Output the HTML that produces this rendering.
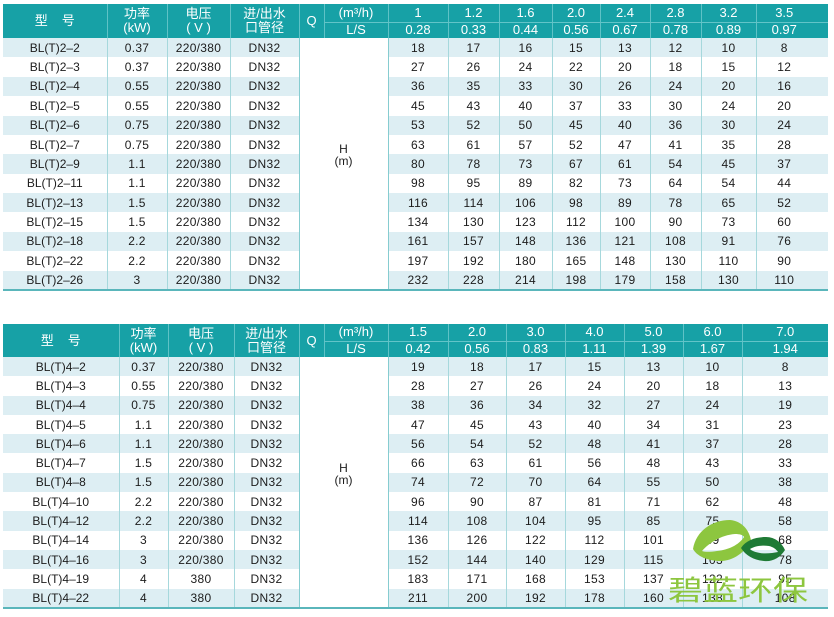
<!DOCTYPE html>
<html><head><meta charset="utf-8">
<style>
body{margin:0;width:834px;height:617px;background:#fff;position:relative;overflow:hidden;font-family:"Liberation Sans","Noto Sans CJK SC",sans-serif;}
table{position:absolute;left:3px;border-collapse:collapse;table-layout:fixed;width:825px;}
th{background:#17a1a6;color:#fff;font-weight:normal;font-size:13px;line-height:14px;padding:0;text-align:center;border-left:1px solid #5fc2c6;white-space:nowrap;overflow:hidden;}
th.f{border-left:none}
th.b{border-bottom:1px solid #62c4c8}
td{font-size:12px;color:#1c1c1c;text-align:center;padding:0;border-left:1px solid #a6d8dc;letter-spacing:0.3px;white-space:nowrap;line-height:14px;}
td.f{border-left:none;letter-spacing:0}
tr.o td{background:#ddeef3}
td.h{background:#fff!important;border-left:1px solid #86ccd0;border-right:1px solid #86ccd0;vertical-align:middle;padding-bottom:16px;line-height:12px;font-size:12px;letter-spacing:0;border-bottom:2px solid #5ab6bb}
tr.l td{border-bottom:2px solid #5ab6bb}
.pr{padding-right:16px}
#t1 tr.d{height:19.38px}
#t2 tr.d{height:19.3px}
.logo{position:absolute;left:668px;top:575px;font-family:"Noto Sans CJK SC",sans-serif;font-size:28px;line-height:28px;color:#8dc63f;transform:scaleX(1.25);transform-origin:0 0;white-space:nowrap;}
</style></head><body>

<table id="t1" style="top:4px">
<colgroup><col style="width:104px"><col style="width:60px"><col style="width:63px"><col style="width:69px"><col style="width:25px"><col style="width:64px"><col style="width:60px"><col style="width:51px"><col style="width:53px"><col style="width:48px"><col style="width:50px"><col style="width:51px"><col style="width:55px"><col style="width:72px"></colgroup>
<tr style="height:18px"><th class="f" rowspan="2"><span style="letter-spacing:14px">型</span>号</th><th rowspan="2">功率<br>(kW)</th><th rowspan="2">电压<br>( V )</th><th rowspan="2">进/出水<br>口管径</th><th rowspan="2">Q</th><th class="b">(m³/h)</th><th class="b">1</th><th class="b">1.2</th><th class="b">1.6</th><th class="b">2.0</th><th class="b">2.4</th><th class="b">2.8</th><th class="b">3.2</th><th class="b pr">3.5</th></tr>
<tr style="height:16px"><th>L/S</th><th>0.28</th><th>0.33</th><th>0.44</th><th>0.56</th><th>0.67</th><th>0.78</th><th>0.89</th><th class="pr">0.97</th></tr>
<tr class="d o"><td class="f">BL(T)2–2</td><td>0.37</td><td>220/380</td><td>DN32</td><td class="h" colspan="2" rowspan="13">H<br>(m)</td><td>18</td><td>17</td><td>16</td><td>15</td><td>13</td><td>12</td><td>10</td><td class="pr">8</td></tr>
<tr class="d"><td class="f">BL(T)2–3</td><td>0.37</td><td>220/380</td><td>DN32</td><td>27</td><td>26</td><td>24</td><td>22</td><td>20</td><td>18</td><td>15</td><td class="pr">12</td></tr>
<tr class="d o"><td class="f">BL(T)2–4</td><td>0.55</td><td>220/380</td><td>DN32</td><td>36</td><td>35</td><td>33</td><td>30</td><td>26</td><td>24</td><td>20</td><td class="pr">16</td></tr>
<tr class="d"><td class="f">BL(T)2–5</td><td>0.55</td><td>220/380</td><td>DN32</td><td>45</td><td>43</td><td>40</td><td>37</td><td>33</td><td>30</td><td>24</td><td class="pr">20</td></tr>
<tr class="d o"><td class="f">BL(T)2–6</td><td>0.75</td><td>220/380</td><td>DN32</td><td>53</td><td>52</td><td>50</td><td>45</td><td>40</td><td>36</td><td>30</td><td class="pr">24</td></tr>
<tr class="d"><td class="f">BL(T)2–7</td><td>0.75</td><td>220/380</td><td>DN32</td><td>63</td><td>61</td><td>57</td><td>52</td><td>47</td><td>41</td><td>35</td><td class="pr">28</td></tr>
<tr class="d o"><td class="f">BL(T)2–9</td><td>1.1</td><td>220/380</td><td>DN32</td><td>80</td><td>78</td><td>73</td><td>67</td><td>61</td><td>54</td><td>45</td><td class="pr">37</td></tr>
<tr class="d"><td class="f">BL(T)2–11</td><td>1.1</td><td>220/380</td><td>DN32</td><td>98</td><td>95</td><td>89</td><td>82</td><td>73</td><td>64</td><td>54</td><td class="pr">44</td></tr>
<tr class="d o"><td class="f">BL(T)2–13</td><td>1.5</td><td>220/380</td><td>DN32</td><td>116</td><td>114</td><td>106</td><td>98</td><td>89</td><td>78</td><td>65</td><td class="pr">52</td></tr>
<tr class="d"><td class="f">BL(T)2–15</td><td>1.5</td><td>220/380</td><td>DN32</td><td>134</td><td>130</td><td>123</td><td>112</td><td>100</td><td>90</td><td>73</td><td class="pr">60</td></tr>
<tr class="d o"><td class="f">BL(T)2–18</td><td>2.2</td><td>220/380</td><td>DN32</td><td>161</td><td>157</td><td>148</td><td>136</td><td>121</td><td>108</td><td>91</td><td class="pr">76</td></tr>
<tr class="d"><td class="f">BL(T)2–22</td><td>2.2</td><td>220/380</td><td>DN32</td><td>197</td><td>192</td><td>180</td><td>165</td><td>148</td><td>130</td><td>110</td><td class="pr">90</td></tr>
<tr class="d o l"><td class="f">BL(T)2–26</td><td>3</td><td>220/380</td><td>DN32</td><td>232</td><td>228</td><td>214</td><td>198</td><td>179</td><td>158</td><td>130</td><td class="pr">110</td></tr>
</table>

<table id="t2" style="top:324px">
<colgroup><col style="width:116px"><col style="width:49px"><col style="width:66px"><col style="width:65px"><col style="width:25px"><col style="width:64px"><col style="width:60px"><col style="width:58px"><col style="width:59px"><col style="width:59px"><col style="width:59px"><col style="width:59px"><col style="width:86px"></colgroup>
<tr style="height:17px"><th class="f" rowspan="2"><span style="letter-spacing:14px">型</span>号</th><th rowspan="2">功率<br>(kW)</th><th rowspan="2">电压<br>( V )</th><th rowspan="2">进/出水<br>口管径</th><th rowspan="2">Q</th><th class="b">(m³/h)</th><th class="b">1.5</th><th class="b">2.0</th><th class="b">3.0</th><th class="b">4.0</th><th class="b">5.0</th><th class="b">6.0</th><th class="b">7.0</th></tr>
<tr style="height:16px"><th>L/S</th><th>0.42</th><th>0.56</th><th>0.83</th><th>1.11</th><th>1.39</th><th>1.67</th><th>1.94</th></tr>
<tr class="d o"><td class="f">BL(T)4–2</td><td>0.37</td><td>220/380</td><td>DN32</td><td class="h" colspan="2" rowspan="13">H<br>(m)</td><td>19</td><td>18</td><td>17</td><td>15</td><td>13</td><td>10</td><td>8</td></tr>
<tr class="d"><td class="f">BL(T)4–3</td><td>0.55</td><td>220/380</td><td>DN32</td><td>28</td><td>27</td><td>26</td><td>24</td><td>20</td><td>18</td><td>13</td></tr>
<tr class="d o"><td class="f">BL(T)4–4</td><td>0.75</td><td>220/380</td><td>DN32</td><td>38</td><td>36</td><td>34</td><td>32</td><td>27</td><td>24</td><td>19</td></tr>
<tr class="d"><td class="f">BL(T)4–5</td><td>1.1</td><td>220/380</td><td>DN32</td><td>47</td><td>45</td><td>43</td><td>40</td><td>34</td><td>31</td><td>23</td></tr>
<tr class="d o"><td class="f">BL(T)4–6</td><td>1.1</td><td>220/380</td><td>DN32</td><td>56</td><td>54</td><td>52</td><td>48</td><td>41</td><td>37</td><td>28</td></tr>
<tr class="d"><td class="f">BL(T)4–7</td><td>1.5</td><td>220/380</td><td>DN32</td><td>66</td><td>63</td><td>61</td><td>56</td><td>48</td><td>43</td><td>33</td></tr>
<tr class="d o"><td class="f">BL(T)4–8</td><td>1.5</td><td>220/380</td><td>DN32</td><td>74</td><td>72</td><td>70</td><td>64</td><td>55</td><td>50</td><td>38</td></tr>
<tr class="d"><td class="f">BL(T)4–10</td><td>2.2</td><td>220/380</td><td>DN32</td><td>96</td><td>90</td><td>87</td><td>81</td><td>71</td><td>62</td><td>48</td></tr>
<tr class="d o"><td class="f">BL(T)4–12</td><td>2.2</td><td>220/380</td><td>DN32</td><td>114</td><td>108</td><td>104</td><td>95</td><td>85</td><td>75</td><td>58</td></tr>
<tr class="d"><td class="f">BL(T)4–14</td><td>3</td><td>220/380</td><td>DN32</td><td>136</td><td>126</td><td>122</td><td>112</td><td>101</td><td>89</td><td>68</td></tr>
<tr class="d o"><td class="f">BL(T)4–16</td><td>3</td><td>220/380</td><td>DN32</td><td>152</td><td>144</td><td>140</td><td>129</td><td>115</td><td>103</td><td>78</td></tr>
<tr class="d"><td class="f">BL(T)4–19</td><td>4</td><td>380</td><td>DN32</td><td>183</td><td>171</td><td>168</td><td>153</td><td>137</td><td>122</td><td>95</td></tr>
<tr class="d o l"><td class="f">BL(T)4–22</td><td>4</td><td>380</td><td>DN32</td><td>211</td><td>200</td><td>192</td><td>178</td><td>160</td><td>138</td><td>108</td></tr>
</table>

<svg style="position:absolute;left:0;top:0" width="834" height="617" viewBox="0 0 834 617">
  <path fill="#8dc63f" fill-rule="evenodd" d="M693,549 C696,531 712,520 730,520 C742,521 749,530 751,540 C745,553 732,562 718,561 C706,560 697,556 693,549 Z M702,551 C709,543 721,535 735,534 C740,534 743,535 744,537 C739,545 728,550 717,551 C710,552 705,552 702,551 Z"/>
  <path fill="#1f7a35" fill-rule="evenodd" d="M741,548 C746,540 756,537 766,537 C775,537 782,543 785,550 C780,558 772,562 764,561 C754,560 746,556 741,548 Z M750,549 C755,546 762,545 769,546 C773,547 776,549 778,552 C773,553 766,554 760,553 C755,552 752,551 750,549 Z"/>
</svg>
<div class="logo">碧蓝环保</div>

</body></html>
